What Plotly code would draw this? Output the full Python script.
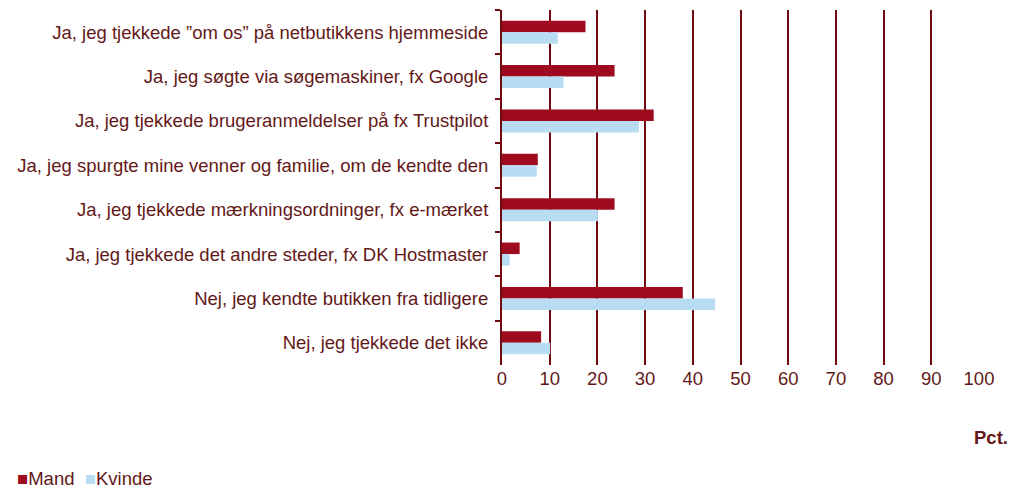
import plotly.graph_objects as go

categories = [
    "Ja, jeg tjekkede ”om os” på netbutikkens hjemmeside",
    "Ja, jeg søgte via søgemaskiner, fx Google",
    "Ja, jeg tjekkede brugeranmeldelser på fx Trustpilot",
    "Ja, jeg spurgte mine venner og familie, om de kendte den",
    "Ja, jeg tjekkede mærkningsordninger, fx e-mærket",
    "Ja, jeg tjekkede det andre steder, fx DK Hostmaster",
    "Nej, jeg kendte butikken fra tidligere",
    "Nej, jeg tjekkede det ikke",
]
mand = [17.5, 23.6, 31.8, 7.5, 23.6, 3.7, 37.9, 8.2]
kvinde = [11.7, 12.9, 28.7, 7.3, 20.1, 1.6, 44.7, 10.1]
x_ticks = [0, 10, 20, 30, 40, 50, 60, 70, 80, 90, 100]

TEXT = "#631818"
GRID = "#6e0a10"
C_MAND = "#9e0b1f"
C_KVINDE = "#b8ddf3"
FS = 18.5

W, H = 1013, 490
L, R, T, B = 502, 34, 10, 125
PW, PH = W - L - R, H - T - B

fig = go.Figure()
fig.add_trace(go.Bar(y=categories, x=mand, name="Mand", orientation="h",
                     marker=dict(color=C_MAND, line=dict(width=0))))
fig.add_trace(go.Bar(y=categories, x=kvinde, name="Kvinde", orientation="h",
                     marker=dict(color=C_KVINDE, line=dict(width=0))))

legend_text = (f"<span style='color:{C_MAND}'>■</span>Mand  "
               f"<span style='color:{C_KVINDE}'>■</span>Kvinde")

fig.update_layout(
    width=W, height=H,
    margin=dict(l=L, r=R, t=T, b=B, autoexpand=False),
    paper_bgcolor="white", plot_bgcolor="white",
    font=dict(family="Liberation Sans, Arial, sans-serif", size=FS, color=TEXT),
    barmode="group", bargap=0.48, bargroupgap=0,
    showlegend=False,
    xaxis=dict(range=[0, 100], tickvals=x_ticks, showgrid=True, gridcolor=GRID,
               gridwidth=2, zeroline=False, showline=False, ticks="",
               automargin=False, tickfont=dict(size=FS, color=TEXT), fixedrange=True),
    yaxis=dict(autorange="reversed", showline=True, linecolor=GRID, linewidth=2,
               ticks="outside", tickson="boundaries", ticklen=5, tickcolor=GRID,
               tickwidth=2, showgrid=False, automargin=False, ticklabelstandoff=8,
               tickfont=dict(size=FS, color=TEXT)),
    annotations=[
        dict(text="<b>Pct.</b>", xref="paper", yref="paper",
             x=(1010 - L) / PW, y=(PH + T - 437) / PH,
             xanchor="right", yanchor="middle", showarrow=False,
             font=dict(size=FS, color=TEXT)),
        dict(text=legend_text, xref="paper", yref="paper",
             x=(15 - L) / PW, y=(PH + T - 478) / PH,
             xanchor="left", yanchor="middle", showarrow=False,
             font=dict(size=FS, color=TEXT)),
    ],
)
fig.write_html(
    "out.html",
    config={"displayModeBar": False},
    post_script="document.body.style.margin='0';document.body.style.overflow='hidden';",
)
